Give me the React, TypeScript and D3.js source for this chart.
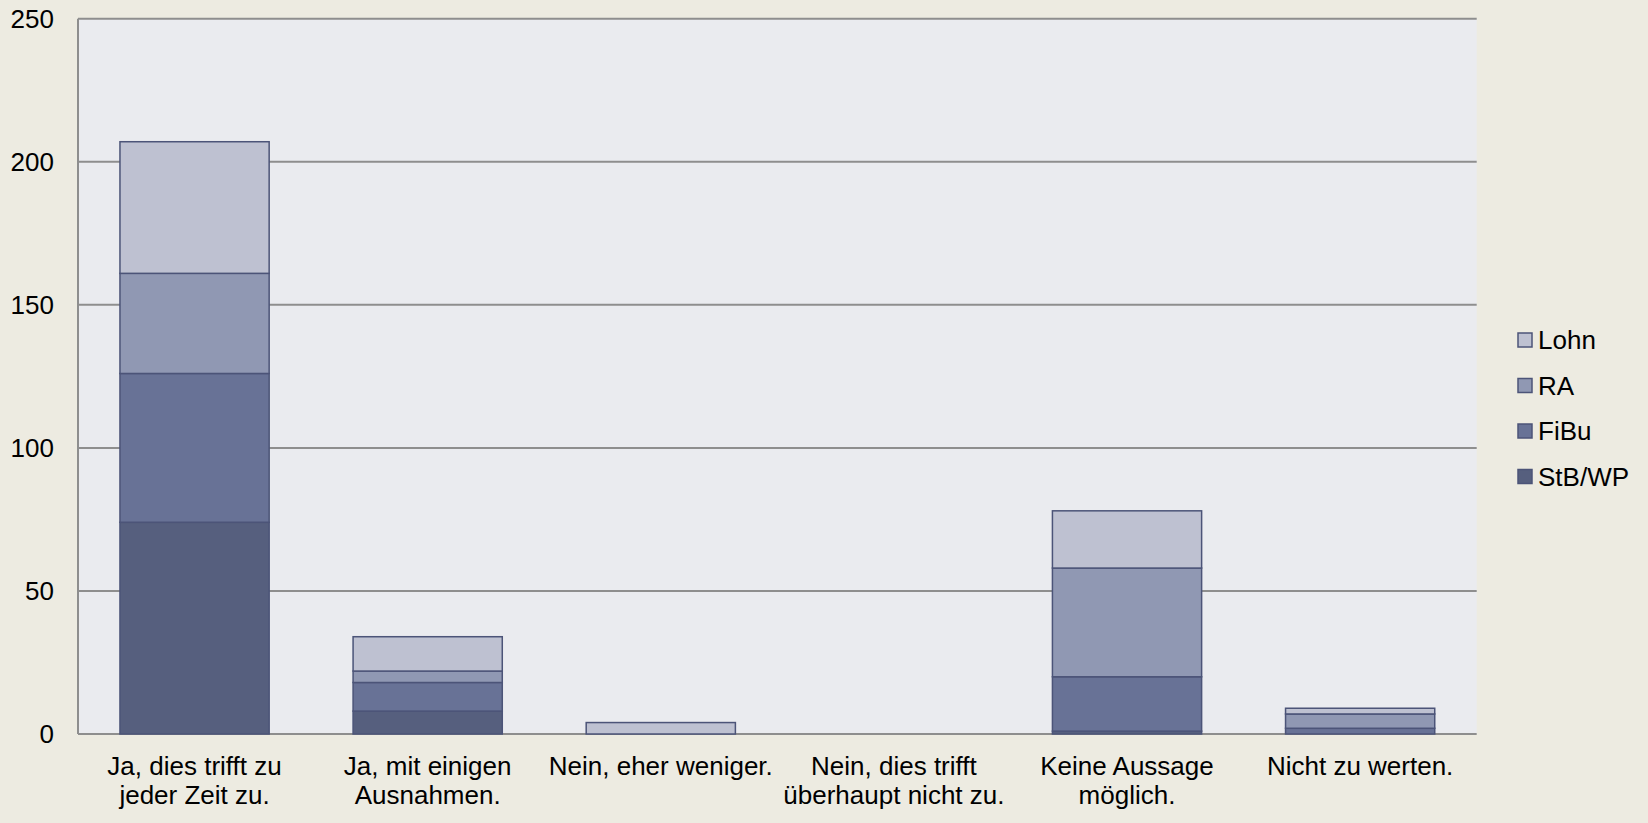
import { useEffect, useRef } from "react";
import * as d3 from "d3";

const categories = [
  ["Ja, dies trifft zu", "jeder Zeit zu."],
  ["Ja, mit einigen", "Ausnahmen."],
  ["Nein, eher weniger."],
  ["Nein, dies trifft", "überhaupt nicht zu."],
  ["Keine Aussage", "möglich."],
  ["Nicht zu werten."],
];
const seriesNames = ["StB/WP", "FiBu", "RA", "Lohn"];
const stbwp = [74, 8, 0, 0, 1, 0];
const fibu = [52, 10, 0, 0, 19, 2];
const ra = [35, 4, 0, 0, 38, 5];
const lohn = [46, 12, 4, 0, 20, 2];
const yTicks = [0, 50, 100, 150, 200, 250];

const colors = ["#565f7e", "#687296", "#9098b3", "#bec1d1"];

const App = () => {
  const svgRef = useRef(null);

  useEffect(() => {
    if (!svgRef.current) return;
    d3.select(svgRef.current).selectAll("*").remove();

    const W = 1648;
    const H = 823;
    const plot = { left: 78, top: 18.7, right: 1476.7, bottom: 734 };
    const font = "'Liberation Sans', Arial, sans-serif";

    const svg = d3.select(svgRef.current).attr("width", W).attr("height", H);

    svg.append("rect").attr("width", W).attr("height", H).attr("fill", "#edebe1");
    svg
      .append("rect")
      .attr("x", plot.left)
      .attr("y", plot.top)
      .attr("width", plot.right - plot.left)
      .attr("height", plot.bottom - plot.top)
      .attr("fill", "#eaebef");

    const x = d3
      .scaleBand()
      .domain(d3.range(categories.length).map(String))
      .range([plot.left, plot.right])
      .paddingInner(0.36)
      .paddingOuter(0.18);

    const y = d3.scaleLinear().domain([0, 250]).range([plot.bottom, plot.top]);

    // gridlines
    svg
      .append("g")
      .selectAll("line")
      .data(yTicks)
      .join("line")
      .attr("x1", plot.left)
      .attr("x2", plot.right)
      .attr("y1", (d) => y(d))
      .attr("y2", (d) => y(d))
      .attr("stroke", "#8e8e8e")
      .attr("stroke-width", 2);

    // left axis line
    svg
      .append("line")
      .attr("x1", plot.left)
      .attr("x2", plot.left)
      .attr("y1", plot.top)
      .attr("y2", plot.bottom)
      .attr("stroke", "#8e8e8e")
      .attr("stroke-width", 2);

    // tick labels
    svg
      .append("g")
      .selectAll("text")
      .data(yTicks)
      .join("text")
      .attr("x", 54)
      .attr("y", (d) => y(d))
      .attr("dy", "0.35em")
      .attr("text-anchor", "end")
      .attr("font-family", font)
      .attr("font-size", 26)
      .attr("fill", "#000")
      .text((d) => d);

    // stacked bars
    const rows = categories.map((_, i) => ({
      key: String(i),
      "StB/WP": stbwp[i],
      FiBu: fibu[i],
      RA: ra[i],
      Lohn: lohn[i],
    }));
    const stack = d3.stack().keys(seriesNames)(rows as any);

    svg
      .append("g")
      .selectAll("g")
      .data(stack)
      .join("g")
      .attr("fill", (_, i) => colors[i])
      .selectAll("rect")
      .data((d) => d.filter((s) => s[1] - s[0] > 0))
      .join("rect")
      .attr("x", (d: any) => x(d.data.key))
      .attr("width", x.bandwidth())
      .attr("y", (d) => y(d[1]))
      .attr("height", (d) => y(d[0]) - y(d[1]))
      .attr("stroke", "#4c5478")
      .attr("stroke-width", 1.5);

    // category labels
    const labels = svg
      .append("g")
      .selectAll("text")
      .data(categories)
      .join("text")
      .attr("x", (_, i) => x(String(i)) + x.bandwidth() / 2)
      .attr("y", 774.5)
      .attr("text-anchor", "middle")
      .attr("font-family", font)
      .attr("font-size", 26)
      .attr("fill", "#000");
    labels
      .selectAll("tspan")
      .data((d) => d)
      .join("tspan")
      .attr("x", function () {
        return (this.parentNode as any).getAttribute("x");
      })
      .attr("dy", (_, j) => (j === 0 ? 0 : 29))
      .text((d) => d);

    // legend
    const legendOrder = [...seriesNames].reverse();
    const lg = svg
      .append("g")
      .selectAll("g")
      .data(legendOrder)
      .join("g")
      .attr("transform", (_, i) => `translate(1518, ${340 + i * 45.5})`);
    lg.append("rect")
      .attr("x", 0)
      .attr("y", -7)
      .attr("width", 14)
      .attr("height", 14)
      .attr("fill", (d) => colors[seriesNames.indexOf(d)])
      .attr("stroke", "#4c5478")
      .attr("stroke-width", 1.5);
    lg.append("text")
      .attr("x", 20)
      .attr("y", 0)
      .attr("dy", "0.35em")
      .attr("font-family", font)
      .attr("font-size", 26)
      .attr("fill", "#000")
      .text((d) => d);
  }, []);

  return <svg ref={svgRef} style={{ position: "absolute", left: 0, top: 0, display: "block" }} />;
};

export default App;
